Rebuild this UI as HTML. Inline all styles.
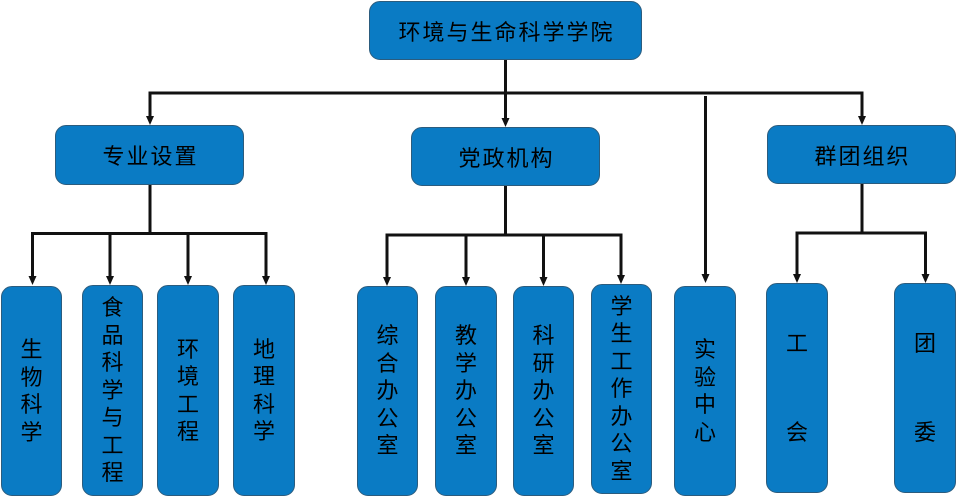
<!DOCTYPE html>
<html>
<head>
<meta charset="utf-8">
<style>
  html,body{margin:0;padding:0;background:#fff;}
  body{width:957px;height:497px;position:relative;overflow:hidden;
    font-family:"Liberation Sans","Noto Sans CJK SC","WenQuanYi Zen Hei",sans-serif;}
  svg{position:absolute;left:0;top:0;}
  .b{position:absolute;box-sizing:border-box;background:#0A7BC4;border:1px solid #2B5C7E;
     border-radius:11px;color:#000;display:flex;align-items:center;justify-content:center;}
  .h{font-size:22px;letter-spacing:2px;padding-left:2px;}
  .v{flex-direction:column;font-size:22px;line-height:27.5px;text-align:center;}
  .v span{display:block;}
</style>
</head>
<body>
<svg width="957" height="497" viewBox="0 0 957 497">
  <g stroke="#111" stroke-width="3" fill="none">
    <line x1="505.5" y1="60" x2="505.5" y2="118"/>
    <line x1="148.5" y1="93" x2="863.5" y2="93"/>
    <line x1="150" y1="93" x2="150" y2="117"/>
    <line x1="862" y1="93" x2="862" y2="117"/>
    <line x1="705.5" y1="96" x2="705.5" y2="275"/>
    <!-- 专业设置 -->
    <line x1="150" y1="185" x2="150" y2="233.5"/>
    <line x1="31" y1="233.5" x2="267.5" y2="233.5"/>
    <line x1="32.5" y1="233.5" x2="32.5" y2="276"/>
    <line x1="110" y1="233.5" x2="110" y2="276"/>
    <line x1="188" y1="233.5" x2="188" y2="276"/>
    <line x1="266" y1="233.5" x2="266" y2="276"/>
    <!-- 党政机构 -->
    <line x1="505.5" y1="186" x2="505.5" y2="235"/>
    <line x1="385.5" y1="235" x2="622.5" y2="235"/>
    <line x1="387" y1="235" x2="387" y2="277"/>
    <line x1="466" y1="235" x2="466" y2="277"/>
    <line x1="543.5" y1="235" x2="543.5" y2="277"/>
    <line x1="621" y1="235" x2="621" y2="276"/>
    <!-- 群团组织 -->
    <line x1="862" y1="184" x2="862" y2="233"/>
    <line x1="795.5" y1="233" x2="927" y2="233"/>
    <line x1="797" y1="233" x2="797" y2="275"/>
    <line x1="925.5" y1="233" x2="925.5" y2="275"/>
  </g>
  <g fill="#111">
    <polygon points="146,116 154,116 150,125"/>
    <polygon points="501.5,118 509.5,118 505.5,127"/>
    <polygon points="858,116 866,116 862,125"/>
    <polygon points="701.5,274 709.5,274 705.5,283"/>
    <polygon points="28.5,276 36.5,276 32.5,285"/>
    <polygon points="106,276 114,276 110,285"/>
    <polygon points="184,276 192,276 188,285"/>
    <polygon points="262,276 270,276 266,285"/>
    <polygon points="383,277 391,277 387,286"/>
    <polygon points="462,277 470,277 466,286"/>
    <polygon points="539.5,277 547.5,277 543.5,286"/>
    <polygon points="617,275 625,275 621,284"/>
    <polygon points="793,274 801,274 797,283"/>
    <polygon points="921.5,274 929.5,274 925.5,283"/>
  </g>
</svg>

<div class="b h" style="left:369px;top:1px;width:273px;height:59px;">环境与生命科学学院</div>
<div class="b h" style="left:55px;top:125px;width:189px;height:60px;">专业设置</div>
<div class="b h" style="left:411px;top:127px;width:189px;height:59px;">党政机构</div>
<div class="b h" style="left:767px;top:125px;width:189px;height:59px;">群团组织</div>

<div class="b v" style="left:1px;top:286px;width:61px;height:210px;"><span>生</span><span>物</span><span>科</span><span>学</span></div>
<div class="b v" style="left:82px;top:285px;width:61px;height:211px;"><span>食</span><span>品</span><span>科</span><span>学</span><span>与</span><span>工</span><span>程</span></div>
<div class="b v" style="left:157px;top:285px;width:62px;height:211px;"><span>环</span><span>境</span><span>工</span><span>程</span></div>
<div class="b v" style="left:233px;top:285px;width:62px;height:211px;"><span>地</span><span>理</span><span>科</span><span>学</span></div>

<div class="b v" style="left:357px;top:286px;width:61px;height:210px;"><span>综</span><span>合</span><span>办</span><span>公</span><span>室</span></div>
<div class="b v" style="left:435px;top:286px;width:62px;height:210px;"><span>教</span><span>学</span><span>办</span><span>公</span><span>室</span></div>
<div class="b v" style="left:513px;top:286px;width:61px;height:210px;"><span>科</span><span>研</span><span>办</span><span>公</span><span>室</span></div>
<div class="b v" style="left:591px;top:284px;width:61px;height:210px;"><span>学</span><span>生</span><span>工</span><span>作</span><span>办</span><span>公</span><span>室</span></div>
<div class="b v" style="left:674px;top:286px;width:62px;height:210px;"><span>实</span><span>验</span><span>中</span><span>心</span></div>

<div class="b v" style="left:766px;top:283px;width:62px;height:210px;"><span>工</span><span style="margin-top:61px;">会</span></div>
<div class="b v" style="left:894px;top:283px;width:62px;height:210px;"><span>团</span><span style="margin-top:61px;">委</span></div>
</body>
</html>
